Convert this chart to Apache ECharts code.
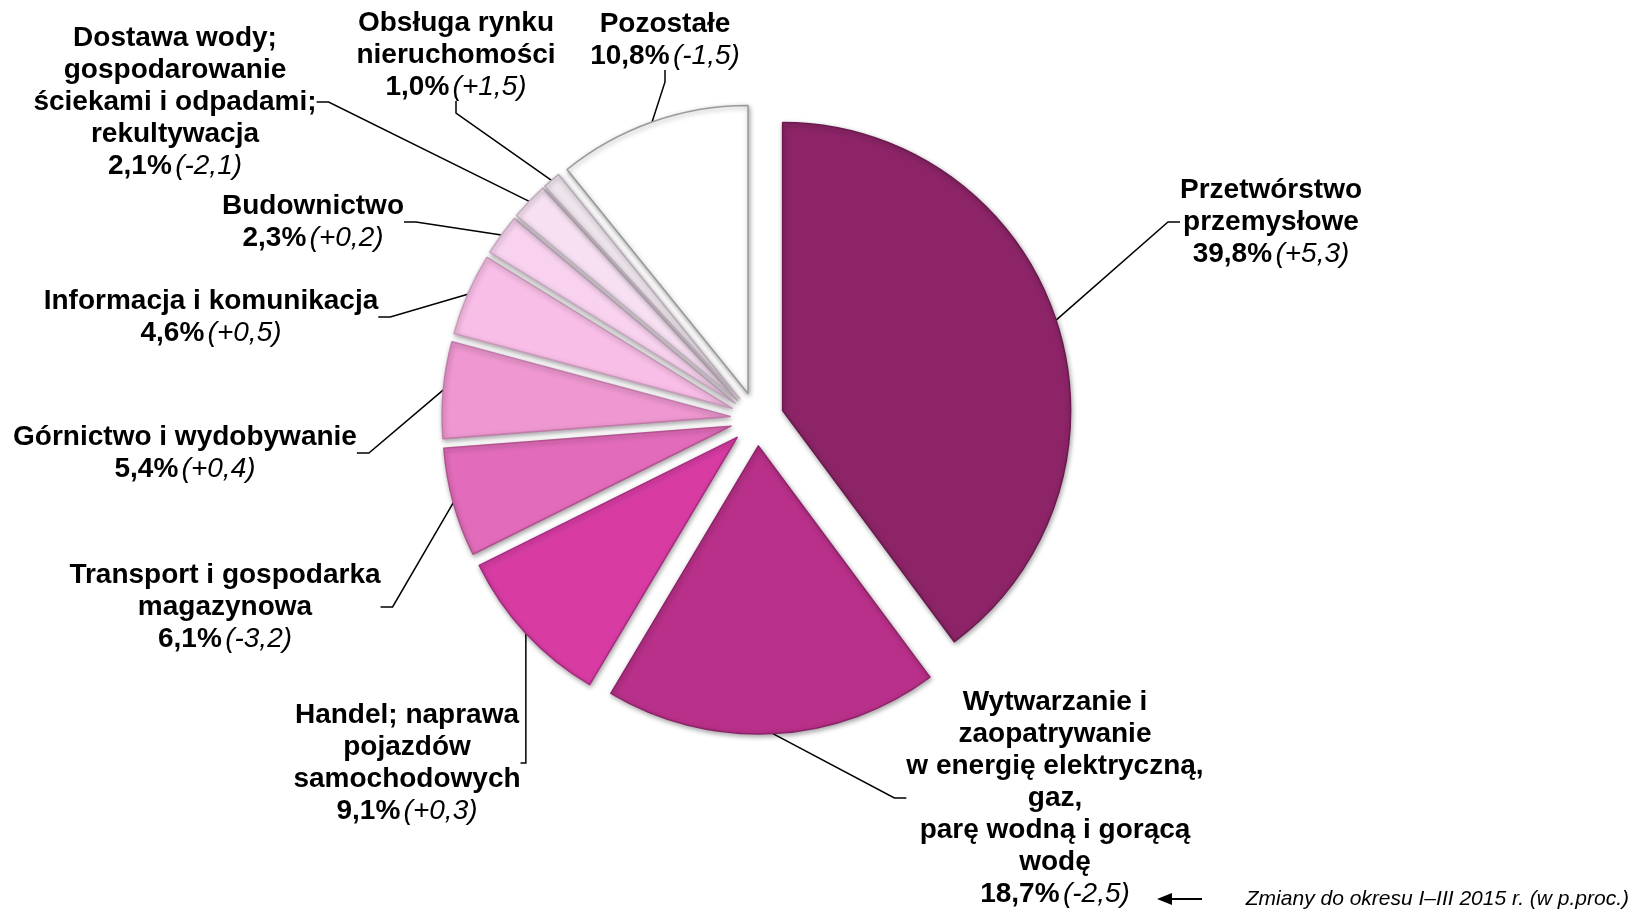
<!DOCTYPE html>
<html>
<head>
<meta charset="utf-8">
<script src="https://cdn.jsdelivr.net/npm/echarts@6/dist/echarts.min.js"></script>
<style>
    html, body { margin: 0; padding: 0; background: #fff; }
    #chart { width: 1633px; height: 911px; }
</style>
</head>
<body>
<div id="chart"></div>
<script>
// dane: udział sekcji (%) i zmiana w p.proc.
var categories = [
    'Przetwórstwo\nprzemysłowe',
    'Wytwarzanie i\nzaopatrywanie\nw energię elektryczną,\ngaz,\nparę wodną i gorącą\nwodę',
    'Handel; naprawa\npojazdów\nsamochodowych',
    'Transport i gospodarka\nmagazynowa',
    'Górnictwo i wydobywanie',
    'Informacja i komunikacja',
    'Budownictwo',
    'Dostawa wody;\ngospodarowanie\nściekami i odpadami;\nrekultywacja',
    'Obsługa rynku\nnieruchomości',
    'Pozostałe'
];
var shares = [39.8, 18.7, 9.1, 6.1, 5.4, 4.6, 2.3, 2.1, 1.0, 10.8];
var changes = [5.3, -2.5, 0.3, -3.2, 0.4, 0.5, 0.2, -2.1, 1.5, -1.5];

var colors = ['#8C2467', '#B83089', '#D83CA3', '#E26CBB', '#EE97D0',
              '#F9BEE7', '#F8D2EF', '#F6E0F2', '#EEE4EC', '#FFFFFF'];
var borders = ['#6A1A4E', '#8E236A', '#A82A80', '#B4528F', '#C27AAA',
               '#C99ABA', '#C8A8C0', '#C4B0C0', '#B8AAB6', '#9A9A9A'];

// położenie środka etykiet (px)
var labelPos = [
    [1271, 222], [1055, 798], [407, 763], [225, 607], [185, 453],
    [211, 317], [313, 222], [175, 102], [456, 55], [665, 40]
];

var pieCenter = [757, 419];
var pieRadius = 288;
var explode = 27;

function fmt(v) {
    return v.toFixed(1).replace('.', ',');
}
function fmtChg(v) {
    return (v >= 0 ? '+' : '-') + fmt(Math.abs(v));
}

var font = "'Liberation Sans', Arial, sans-serif";
var total = shares.reduce(function (a, b) { return a + b; }, 0);

// każdy wycinek jako osobna seria, przesunięta wzdłuż swojej dwusiecznej
var series = [];
var cum = 0;
shares.forEach(function (v, k) {
    var mid = (cum + v / 2) / total * 2 * Math.PI;
    cum += v;
    var cx = pieCenter[0] + explode * Math.sin(mid);
    var cy = pieCenter[1] - explode * Math.cos(mid);

    var data = shares.map(function (val, i) {
        if (i !== k) {
            return {
                name: categories[i], value: val,
                itemStyle: { color: 'rgba(0,0,0,0)', borderWidth: 0, shadowBlur: 0 },
                label: { show: false },
                labelLine: { show: false }
            };
        }
        return {
            name: categories[i], value: val,
            itemStyle: {
                color: colors[i],
                borderColor: borders[i],
                borderWidth: 1.5,
                shadowBlur: 5,
                shadowOffsetX: 1,
                shadowOffsetY: 2,
                shadowColor: 'rgba(0,0,0,0.35)'
            }
        };
    });

    series.push({
        type: 'pie',
        name: categories[k],
        center: [cx, cy],
        radius: pieRadius,
        startAngle: 90,
        clockwise: true,
        avoidLabelOverlap: false,
        selectedMode: false,
        emphasis: { disabled: true },
        z: 2,
        label: {
            show: true,
            position: 'outside',
            align: 'center',
            fontFamily: font,
            color: '#000',
            formatter: function (p) {
                var i = p.dataIndex;
                return '{n|' + categories[i] + '}\n{p|' + fmt(shares[i]) + '%} {c|(' + fmtChg(changes[i]) + ')}';
            },
            rich: {
                n: { fontFamily: font, fontSize: 28, fontWeight: 'bold', lineHeight: 32, color: '#000', align: 'center' },
                p: { fontFamily: font, fontSize: 28, fontWeight: 'bold', lineHeight: 32, color: '#000' },
                c: { fontFamily: font, fontSize: 28, fontStyle: 'italic', lineHeight: 32, color: '#000' }
            }
        },
        labelLine: {
            show: true,
            length: 20,
            length2: 12,
            lineStyle: { color: '#000', width: 1.5 }
        },
        labelLayout: function (params) {
            var p = labelPos[params.dataIndex];
            return { x: p[0], y: p[1], align: 'center', verticalAlign: 'middle' };
        },
        data: data
    });
});

var myChart = echarts.init(document.getElementById('chart'));
var option = {
    backgroundColor: '#fff',
    animation: false,
    series: series,
    graphic: [
        {
            type: 'line',
            shape: { x1: 1168, y1: 899, x2: 1202, y2: 899 },
            style: { stroke: '#000', lineWidth: 2 }
        },
        {
            type: 'polygon',
            shape: { points: [[1157, 899], [1172, 893], [1172, 905]] },
            style: { fill: '#000' }
        },
        {
            type: 'text',
            right: 4,
            top: 889,
            style: {
                text: 'Zmiany do okresu I–III 2015 r. (w p.proc.)',
                font: 'italic 21px ' + font,
                fill: '#000'
            }
        }
    ]
};
myChart.setOption(option);
</script>
</body>
</html>
